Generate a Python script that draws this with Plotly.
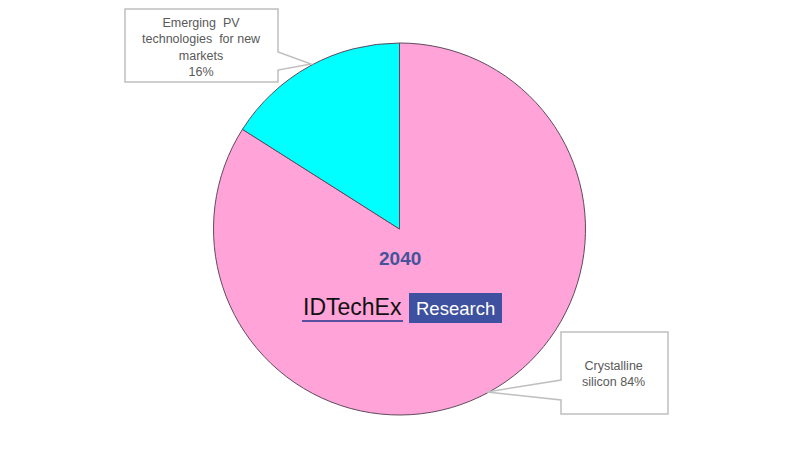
import plotly.graph_objects as go

# Data
labels = ["Crystalline silicon", "Emerging PV technologies for new markets"]
values = [84, 16]
colors = ["#FFA3D8", "#00FFFF"]
year_label = "2040"
callout_texts = ["Emerging  PV<br>technologies  for new<br>markets<br>16%",
                 "Crystalline<br>silicon 84%"]

W, H = 800, 450
OFF = 8  # page body margin offset


def px(x):
    return (x - OFF) / W


def py(y):
    return 1 - (y - OFF) / H


fig = go.Figure()
fig.add_trace(go.Pie(
    labels=labels,
    values=values,
    sort=False,
    direction="clockwise",
    rotation=0,
    textinfo="none",
    hoverinfo="label+percent",
    marker=dict(colors=colors, line=dict(color="#5e4a5e", width=1)),
    domain=dict(x=[px(213), px(586)], y=[py(415), py(43)]),
    showlegend=False,
))


def callout_path(x0, y0, x1, y1, side, a, b, tip):
    tx, ty = tip
    if side == "right":
        pts = [(x0, y0), (x1, y0), (x1, a), (tx, ty), (x1, b), (x1, y1), (x0, y1)]
    else:
        pts = [(x0, y0), (x1, y0), (x1, y1), (x0, y1), (x0, b), (tx, ty), (x0, a)]
    d = "M " + " L ".join(f"{px(x):.5f},{py(y):.5f}" for x, y in pts) + " Z"
    return d


shapes = []
shapes.append(dict(type="path", xref="paper", yref="paper",
                   path=callout_path(125, 9, 278, 82, "right", 52, 70, (311, 64)),
                   fillcolor="white", line=dict(color="#bfbfbf", width=1.5)))
shapes.append(dict(type="path", xref="paper", yref="paper",
                   path=callout_path(561, 332, 668, 414, "left", 380, 400, (487, 392)),
                   fillcolor="white", line=dict(color="#bfbfbf", width=1.5)))
shapes.append(dict(type="rect", xref="paper", yref="paper",
                   x0=px(409), x1=px(502), y0=py(323), y1=py(293),
                   fillcolor="#3E50A0", line=dict(width=0)))
shapes.append(dict(type="line", xref="paper", yref="paper",
                   x0=px(302), x1=px(403), y0=py(321), y1=py(321),
                   line=dict(color="#5a4f9e", width=2)))

annotations = [
    dict(x=px(201), y=py(47), xref="paper", yref="paper", text=callout_texts[0],
         showarrow=False, font=dict(family="Liberation Sans, Arial", size=12.5, color="#595959"),
         xanchor="center", yanchor="middle", align="center"),
    dict(x=px(613), y=py(374), xref="paper", yref="paper", text=callout_texts[1],
         showarrow=False, font=dict(family="Liberation Sans, Arial", size=12.5, color="#595959"),
         xanchor="center", yanchor="middle", align="center"),
    dict(x=px(400), y=py(258), xref="paper", yref="paper", text=f"<b>{year_label}</b>",
         showarrow=False, font=dict(family="Liberation Sans, Arial", size=19, color="#44549A"),
         xanchor="center", yanchor="middle"),
    dict(x=px(352), y=py(307), xref="paper", yref="paper", text="IDTechEx",
         showarrow=False, font=dict(family="Liberation Sans, Arial", size=23, color="#111111"),
         xanchor="center", yanchor="middle"),
    dict(x=px(455.5), y=py(308), xref="paper", yref="paper", text="Research",
         showarrow=False, font=dict(family="Liberation Sans, Arial", size=18.5, color="white"),
         xanchor="center", yanchor="middle"),
]

fig.update_layout(
    width=W, height=H,
    margin=dict(l=0, r=0, t=0, b=0),
    paper_bgcolor="white",
    plot_bgcolor="white",
    shapes=shapes,
    annotations=annotations,
)

fig.write_html("out.html")
